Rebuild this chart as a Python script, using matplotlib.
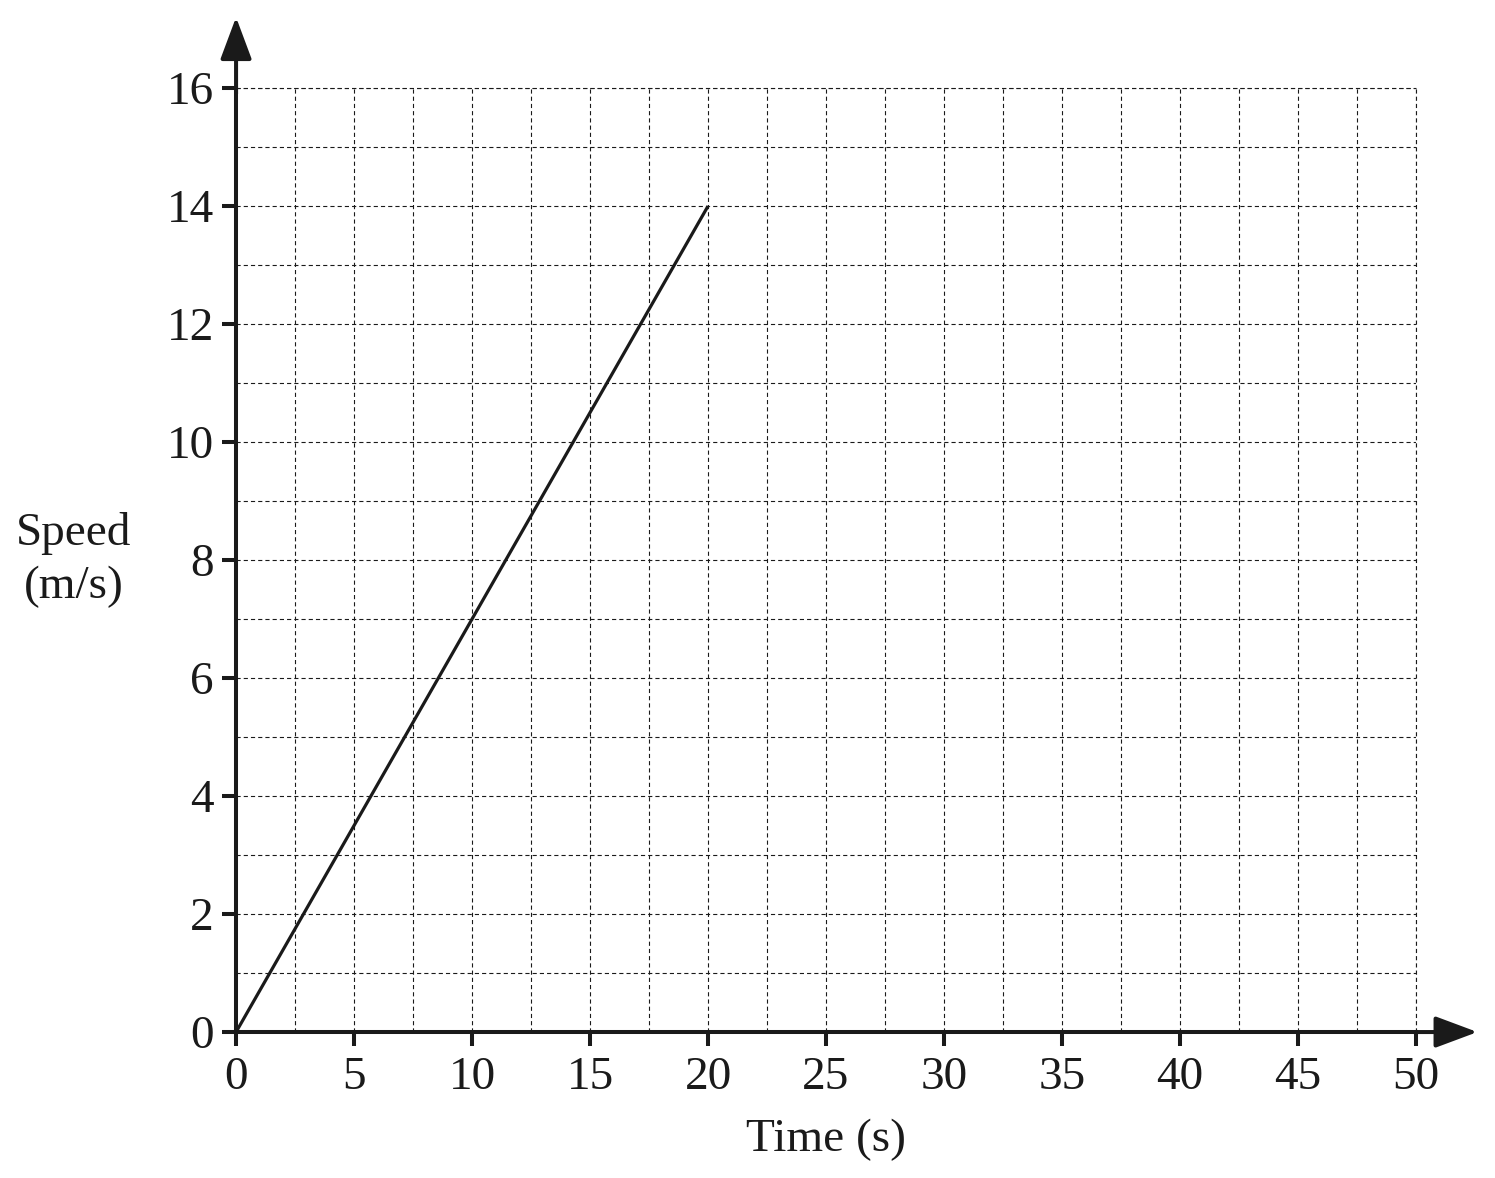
import numpy as np
import matplotlib.pyplot as plt
from matplotlib.ticker import MultipleLocator

# speed-time data
time_s = [0, 20]
speed_ms = [0, 14]

x_major = [0, 5, 10, 15, 20, 25, 30, 35, 40, 45, 50]
y_major = [0, 2, 4, 6, 8, 10, 12, 14, 16]

ink = '#1a1a1a'
plt.rcParams['font.family'] = ['Liberation Serif', 'DejaVu Serif']
plt.rcParams['lines.scale_dashes'] = False

fig = plt.figure(figsize=(14.95, 11.78), dpi=100)
ax = fig.add_axes([0.1579, 0.1239, 0.7893, 0.8014])

ax.set_xlim(0, 50)
ax.set_ylim(0, 16)
ax.set_xticks(x_major)
ax.set_yticks(y_major)
ax.xaxis.set_minor_locator(MultipleLocator(2.5))
ax.yaxis.set_minor_locator(MultipleLocator(1))

ax.grid(True, which='both', color=ink, linestyle=(0, (3, 2.2)), linewidth=0.8)
ax.set_axisbelow(True)

for s in ['top', 'right']:
    ax.spines[s].set_visible(False)
for s in ['left', 'bottom']:
    ax.spines[s].set_linewidth(2.9)
    ax.spines[s].set_color(ink)

ax.tick_params(which='major', length=10, width=2.9, color=ink, labelsize=34, labelcolor=ink)
ax.tick_params(axis='x', which='major', pad=7.5)
ax.tick_params(axis='y', which='major', pad=6)
ax.tick_params(which='minor', length=0)

# top/right grid borders (16 and 50 lines)
ax.axhline(16, color=ink, linestyle=(0, (3, 2.2)), linewidth=0.8, clip_on=False)
ax.axvline(50, color=ink, linestyle=(0, (3, 2.2)), linewidth=0.8, clip_on=False)

ax.plot(time_s, speed_ms, color=ink, linewidth=2.3, solid_capstyle='butt', zorder=3)

# axis arrows
head = '-|>,head_length=26,head_width=9.7'
ax.annotate('', xy=(0, 17.2), xytext=(0, 15.9), xycoords='data',
            arrowprops=dict(arrowstyle=head, color=ink, lw=2.9,
                            shrinkA=0, shrinkB=0, mutation_scale=1),
            annotation_clip=False)
ax.annotate('', xy=(52.6, 0), xytext=(49.9, 0), xycoords='data',
            arrowprops=dict(arrowstyle=head, color=ink, lw=2.9,
                            shrinkA=0, shrinkB=0, mutation_scale=1),
            annotation_clip=False)

ax.set_xlabel('Time (s)', fontsize=34, color=ink, labelpad=14)
fig.text(74 / 1495, 1 - 560 / 1178, 'Speed\n(m/s)', fontsize=34, color=ink,
         ha='center', va='center', linespacing=1.3)

fig.savefig('out.png', dpi=100)
